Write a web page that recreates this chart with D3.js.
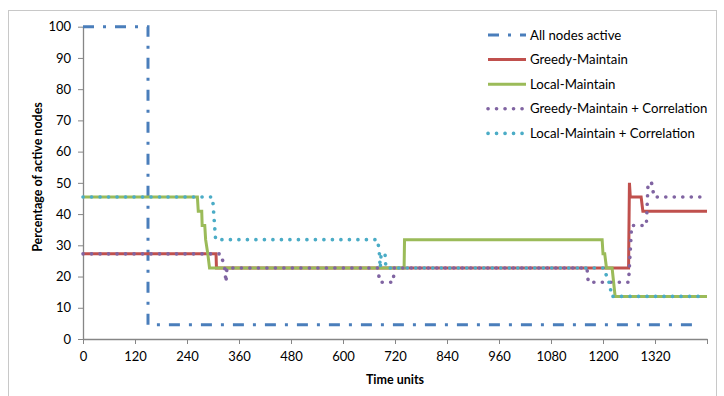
<!DOCTYPE html>
<html>
<head>
<meta charset="utf-8">
<script src="https://cdn.jsdelivr.net/npm/d3@7"></script>
<style>
  body { margin: 0; background: #fff; }
  svg { display: block; font-family: Lato, "Open Sans", sans-serif; }
</style>
</head>
<body>
<svg id="chart"></svg>
<script>
// series as [time, percentage] break points
const allNodesActive = [[0, 100], [150, 100], [150, 4.55], [1425, 4.55]];

const greedyMaintain = [
  [0, 27.27], [307, 27.27], [308, 22.73], [1259, 22.73], [1261, 50],
  [1263, 45.45], [1288, 45.45], [1292, 40.91], [1440, 40.91],
];

const localMaintain = [
  [0, 45.45], [264, 45.45], [266, 40.91], [274, 40.91], [275, 36.36],
  [281, 36.36], [283, 31.82], [288, 27.27], [292, 22.73], [741, 22.73],
  [742, 31.82], [1198, 31.82], [1200, 27.27], [1204, 27.27], [1208, 22.73],
  [1221, 22.73], [1228, 13.64], [1440, 13.64],
];

const greedyCorrelation = [
  [0, 27.27], [318, 27.27], [327, 22.73], [330, 18.18], [332, 22.73],
  [680, 22.73], [685, 18.18], [716, 18.18], [718, 22.73], [1163, 22.73],
  [1166, 18.18], [1259, 18.18], [1266, 36.36], [1300, 36.36], [1304, 50],
  [1312, 50], [1318, 45.45], [1425, 45.45],
];

const localCorrelation = [
  [0, 45.45], [299, 45.45], [306, 31.82], [680, 31.82], [684, 27.27],
  [686, 22.73], [688, 27.27], [697, 27.27], [699, 22.73], [1203, 22.73],
  [1212, 18.18], [1216, 18.18], [1219, 13.64], [1425, 13.64],
];

const seriesNames = [
  "All nodes active",
  "Greedy-Maintain",
  "Local-Maintain",
  "Greedy-Maintain + Correlation",
  "Local-Maintain + Correlation",
];

const xTickValues = [0, 120, 240, 360, 480, 600, 720, 840, 960, 1080, 1200, 1320, 1440];
const yTickValues = [0, 10, 20, 30, 40, 50, 60, 70, 80, 90, 100];

const width = 724;
const height = 396;

const svg = d3.select("#chart").attr("width", width).attr("height", height);

// one style per series, Excel 2007 palette
const styles = [
  { color: "#4a7ebb", width: 3, dash: "11,9,3,9", cap: "butt" },
  { color: "#c0504d", width: 3, dash: null, cap: "butt" },
  { color: "#9bbb59", width: 3, dash: null, cap: "butt" },
  { color: "#8064a2", width: 3.6, dash: "0.1,8.4", cap: "round" },
  { color: "#4bacc6", width: 3.6, dash: "0.1,8.4", cap: "round" },
];
const series = [allNodesActive, greedyMaintain, localMaintain, greedyCorrelation, localCorrelation];

// chart area border
svg.append("rect")
  .attr("x", 8.5).attr("y", 10.5)
  .attr("width", 708).attr("height", 400)
  .attr("fill", "none")
  .attr("stroke", "#c8c8c8");

const x = d3.scaleLinear().domain([0, 1440]).range([83, 707]);
const y = d3.scaleLinear().domain([0, 100]).range([339, 26.7]);

// axes
const xAxis = svg.append("g")
  .attr("transform", `translate(0 ${y(0)})`)
  .call(d3.axisBottom(x)
    .tickValues(xTickValues)
    .tickFormat((d) => (d === 1440 ? "" : d))
    .tickSize(5)
    .tickPadding(8)
    .tickSizeOuter(0));

const yAxis = svg.append("g")
  .attr("transform", `translate(${x(0)} 0)`)
  .call(d3.axisLeft(y)
    .tickValues(yTickValues)
    .tickSize(5)
    .tickPadding(7)
    .tickSizeOuter(0));

[xAxis, yAxis].forEach((g) => {
  g.select(".domain").attr("stroke", "#868686").attr("stroke-width", 1.3);
  g.selectAll(".tick line").attr("stroke", "#868686");
  g.selectAll(".tick text")
    .attr("font-family", "Lato, 'Open Sans', sans-serif")
    .attr("font-size", 13)
    .attr("fill", "#000");
});

// axis titles
svg.append("text")
  .attr("x", 395).attr("y", 384)
  .attr("text-anchor", "middle")
  .attr("font-size", 12.5).attr("font-weight", "bold")
  .text("Time units");

svg.append("text")
  .attr("transform", "translate(38 177) rotate(-90)")
  .attr("text-anchor", "middle")
  .attr("dy", "0.35em")
  .attr("font-size", 12.5).attr("font-weight", "bold")
  .text("Percentage of active nodes");

// lines
const line = d3.line()
  .x((d) => x(d[0]))
  .y((d) => y(d[1]));

svg.append("g")
  .attr("fill", "none")
  .selectAll("path")
  .data(series)
  .join("path")
  .attr("d", line)
  .attr("stroke", (d, i) => styles[i].color)
  .attr("stroke-width", (d, i) => styles[i].width)
  .attr("stroke-dasharray", (d, i) => styles[i].dash)
  .attr("stroke-linecap", (d, i) => styles[i].cap)
  .attr("stroke-linejoin", "miter");

// legend
const legend = svg.append("g")
  .selectAll("g")
  .data(seriesNames)
  .join("g")
  .attr("transform", (d, i) => `translate(488 ${35 + i * 24.6})`);

legend.append("line")
  .attr("x1", 0).attr("x2", 38)
  .attr("stroke", (d, i) => styles[i].color)
  .attr("stroke-width", (d, i) => styles[i].width)
  .attr("stroke-dasharray", (d, i) => styles[i].dash)
  .attr("stroke-linecap", (d, i) => styles[i].cap);

legend.append("text")
  .attr("x", 42)
  .attr("dy", "0.35em")
  .attr("font-size", 13.2)
  .text((d) => d);
</script>
</body>
</html>
